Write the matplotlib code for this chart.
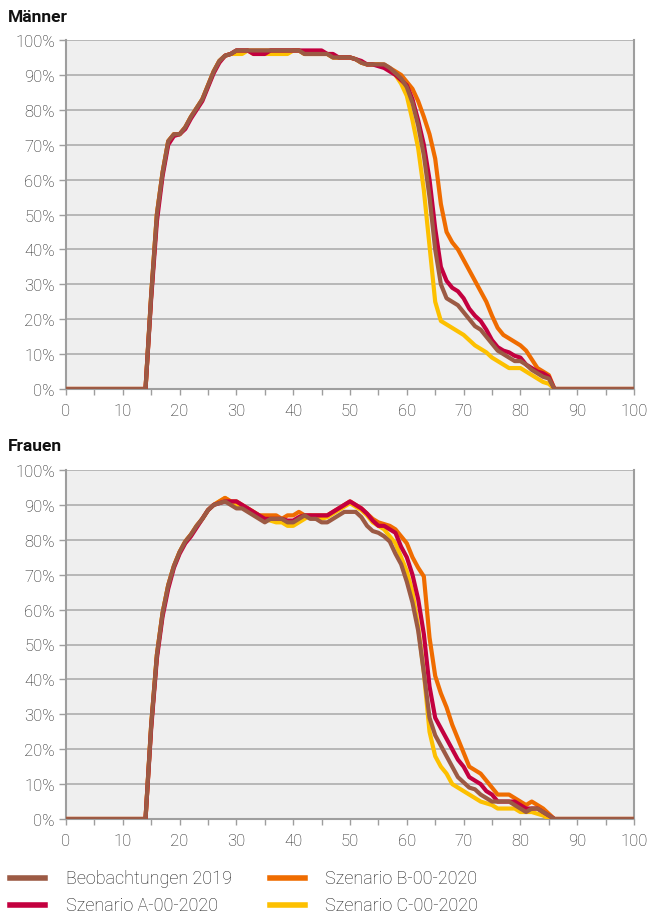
import matplotlib
matplotlib.use("Agg")
import matplotlib.pyplot as plt
from matplotlib.lines import Line2D
from matplotlib.ticker import MultipleLocator, FuncFormatter

ages = list(range(0, 101))

# ---- Männer ----
m_obs = [0, 0, 0, 0, 0, 0, 0, 0, 0, 0, 0, 0, 0, 0, 0,
         27, 50, 62, 71, 73, 73, 75, 78, 80.5, 83, 87, 91, 94, 95.5, 96,
         97, 97, 97, 97, 97, 97, 97, 97, 97, 97, 97, 97, 96, 96, 96, 96, 96, 95, 95, 95,
         95, 94.5, 93.5, 93, 93, 93, 93, 92, 90.5, 89,
         86.5, 82, 75.5, 67, 55, 40, 30, 26, 25, 24,
         22, 20, 18, 17, 15, 13, 11, 10, 9, 8,
         8, 7, 5.5, 4.5, 3.5, 3, 0, 0, 0, 0,
         0, 0, 0, 0, 0, 0, 0, 0, 0, 0, 0]
m_a = [0, 0, 0, 0, 0, 0, 0, 0, 0, 0, 0, 0, 0, 0, 0,
       26, 48, 61, 70, 72.5, 73, 74.5, 77.5, 80, 82.5, 86.5, 90.5, 93.5, 95.5, 96,
       97, 97, 97, 96, 96, 96, 97, 97, 97, 97, 97, 97, 97, 97, 97, 97, 96, 96, 95, 95,
       95, 94.5, 94, 93, 93, 92.5, 92, 91, 90, 88.5,
       87, 83, 77, 70, 60, 46, 35, 31, 29, 28,
       26, 23, 21, 19.5, 17, 14, 12, 11, 10.5, 9.5,
       9, 7, 6, 5, 4.5, 3.5, 0, 0, 0, 0,
       0, 0, 0, 0, 0, 0, 0, 0, 0, 0, 0]
m_b = [0, 0, 0, 0, 0, 0, 0, 0, 0, 0, 0, 0, 0, 0, 0,
       27, 50, 62, 71, 73, 73, 75, 78, 80.5, 83, 87, 91, 94, 95.5, 96,
       97, 97, 97, 97, 97, 97, 97, 97, 97, 97, 97, 97, 96, 96, 96, 96, 96, 95, 95, 95,
       95, 94.5, 93.5, 93, 93, 93, 93, 92, 91, 90,
       88, 86, 82.5, 78, 73, 66, 53, 45, 42, 40,
       37, 34, 31, 28, 25, 21, 17.5, 15.5, 14.5, 13.5,
       12.5, 11, 8.5, 6, 5, 4, 0, 0, 0, 0,
       0, 0, 0, 0, 0, 0, 0, 0, 0, 0, 0]
m_c = [0, 0, 0, 0, 0, 0, 0, 0, 0, 0, 0, 0, 0, 0, 0,
       27, 50, 62, 71, 73, 73, 75, 78, 80.5, 83, 87, 91, 94, 95.5, 96,
       96, 96, 97, 96, 96, 96, 96, 96, 96, 96, 97, 97, 96, 96, 96, 96, 96, 95, 95, 95,
       95, 94.5, 93.5, 93, 93, 93, 92.5, 91.5, 90, 87.5,
       84, 77, 69, 57, 41, 25, 19.5, 18.5, 17.5, 16.5,
       15.5, 14, 12.5, 11.5, 10.5, 9, 8, 7, 6, 6,
       6, 5, 4, 3, 2, 1.5, 0, 0, 0, 0,
       0, 0, 0, 0, 0, 0, 0, 0, 0, 0, 0]

# ---- Frauen ----
f_obs = [0, 0, 0, 0, 0, 0, 0, 0, 0, 0, 0, 0, 0, 0, 0,
         27, 47, 59, 67, 72.5, 76.5, 79.5, 81.5, 84, 86, 88.5, 90, 90.5, 91, 90,
         89, 89, 88, 87, 86, 85, 86, 86, 86, 85, 85, 86, 87, 86, 86, 85, 85, 86, 87, 88,
         88, 88, 86.5, 84, 82.5, 82, 81, 79.5, 76, 73,
         68, 62, 54, 42, 29, 24, 21, 18, 15, 12,
         10.5, 9, 8.5, 7, 6, 5, 5, 5, 5, 4,
         3, 2, 3, 3, 2, 1, 0, 0, 0, 0,
         0, 0, 0, 0, 0, 0, 0, 0, 0, 0, 0]
f_a = [0, 0, 0, 0, 0, 0, 0, 0, 0, 0, 0, 0, 0, 0, 0,
       26, 46, 58, 66, 72, 76, 79, 81, 83.5, 86, 88.5, 90, 90.5, 91, 91,
       91, 90, 89, 88, 87, 86, 86, 86, 86, 85.5, 85.5, 86.5, 87, 87, 87, 87, 87, 88, 89, 90,
       91, 90, 89, 87.5, 85.5, 84, 84, 83, 82, 78,
       75, 70, 63, 53, 38, 29, 26, 23, 20, 17,
       15, 12, 11, 10, 8, 7, 5, 5, 5, 5,
       4, 3, 3, 3, 2, 1, 0, 0, 0, 0,
       0, 0, 0, 0, 0, 0, 0, 0, 0, 0, 0]
f_b = [0, 0, 0, 0, 0, 0, 0, 0, 0, 0, 0, 0, 0, 0, 0,
       27, 47, 59, 67, 72.5, 76.5, 79.5, 81.5, 84, 86, 88.5, 90, 91, 92, 91,
       91, 90, 89, 88, 87, 87, 87, 87, 86, 87, 87, 88, 87, 87, 87, 87, 87, 88, 89, 90,
       91, 90, 89, 87.5, 86, 85, 84.5, 84, 83, 81,
       79, 75, 72, 69.5, 52, 41, 36, 32, 27, 23,
       19, 15, 14, 13, 11, 9, 7, 7, 7, 6,
       5, 4, 5, 4, 3, 1.5, 0, 0, 0, 0,
       0, 0, 0, 0, 0, 0, 0, 0, 0, 0, 0]
f_c = [0, 0, 0, 0, 0, 0, 0, 0, 0, 0, 0, 0, 0, 0, 0,
       27, 47, 59, 67, 72.5, 76.5, 79.5, 81.5, 84, 86, 88.5, 90, 91, 92, 91,
       90, 89.5, 89, 88, 87, 86, 85.5, 85, 85, 84, 84, 85, 86, 87, 86, 86, 86.5, 87.5, 88.5, 89.5,
       90.5, 89.5, 88.5, 87, 85, 84, 83, 81, 79, 75,
       71, 65, 55, 42, 25, 18, 15, 13, 10, 9,
       8, 7, 6, 5, 4.5, 4, 3, 3, 3, 3,
       2, 2, 2, 1.5, 1, 0, 0, 0, 0, 0,
       0, 0, 0, 0, 0, 0, 0, 0, 0, 0, 0]

series_names = ["Beobachtungen 2019", "Szenario A-00-2020",
                "Szenario B-00-2020", "Szenario C-00-2020"]
colors = {"obs": "#9c5a44", "a": "#c3003f", "b": "#ef6c00", "c": "#fdc000"}
panel_titles = ["Männer", "Frauen"]

plt.rcParams['font.family'] = ['Roboto', 'DejaVu Sans']

W, H = 651, 920
fig = plt.figure(figsize=(W / 100, H / 100), dpi=100)

GRID = "#b3b3b3"
SPINE = "#9e9e9e"
TXT = "#1e1e1e"
FS = 12

def make_ax(top_px, data, title, title_y):
    left = 66 / W
    width = (634 - 66) / W
    height = (390 - 41) / H
    bottom = 1 - (top_px + 349) / H
    ax = fig.add_axes([left, bottom, width, height])
    ax.set_facecolor("#efefef")
    obs, a, b, c = data
    # draw order: yellow, orange, red, brown on top
    ax.plot(ages, c, color=colors["c"], lw=3.0, solid_joinstyle="round", zorder=3)
    ax.plot(ages, b, color=colors["b"], lw=3.0, solid_joinstyle="round", zorder=4)
    ax.plot(ages, a, color=colors["a"], lw=3.0, solid_joinstyle="round", zorder=5)
    ax.plot(ages, obs, color=colors["obs"], lw=3.0, solid_joinstyle="round", zorder=6)
    ax.set_xlim(0, 100)
    ax.set_ylim(0, 100)
    ax.xaxis.set_major_locator(MultipleLocator(10))
    ax.xaxis.set_minor_locator(MultipleLocator(5))
    ax.yaxis.set_major_locator(MultipleLocator(10))
    ax.yaxis.set_major_formatter(FuncFormatter(lambda v, p: f"{int(round(v))}%"))
    ax.grid(axis="y", color=GRID, lw=1.3, zorder=1)
    ax.set_axisbelow(True)
    ax.spines["top"].set_visible(False)
    for s in ["left", "bottom", "right"]:
        ax.spines[s].set_color(SPINE)
        ax.spines[s].set_linewidth(1.5)
    ax.tick_params(axis="x", which="both", direction="out", length=4, width=1,
                   color=SPINE, labelsize=FS, labelcolor=TXT, pad=6)
    ax.tick_params(axis="y", which="major", direction="out", length=5, width=1,
                   color=SPINE, labelsize=FS, labelcolor=TXT, pad=3)
    for lab in ax.get_xticklabels() + ax.get_yticklabels():
        lab.set_fontweight("light")
    fig.text(8 / W, 1 - title_y / H, title, fontsize=12.5, fontweight="bold",
             color="#111111", va="center", ha="left")
    return ax

make_ax(41, (m_obs, m_a, m_b, m_c), panel_titles[0], 17)
make_ax(471, (f_obs, f_a, f_b, f_c), panel_titles[1], 447)

# legend (manual, 2 columns)
leg_cols = [("obs", 10, 45, 66, 879), ("a", 10, 45, 66, 906),
            ("b", 270, 305, 325, 879), ("c", 270, 305, 325, 906)]
for (key, x0, x1, xt, y), name in zip(leg_cols, series_names):
    fig.add_artist(Line2D([x0 / W, x1 / W], [1 - y / H, 1 - y / H],
                          transform=fig.transFigure, color=colors[key], lw=4))
    fig.text(xt / W, 1 - y / H, name, fontsize=13, fontweight="light", color=TXT,
             va="center", ha="left")

fig.savefig("out.png", dpi=100)
